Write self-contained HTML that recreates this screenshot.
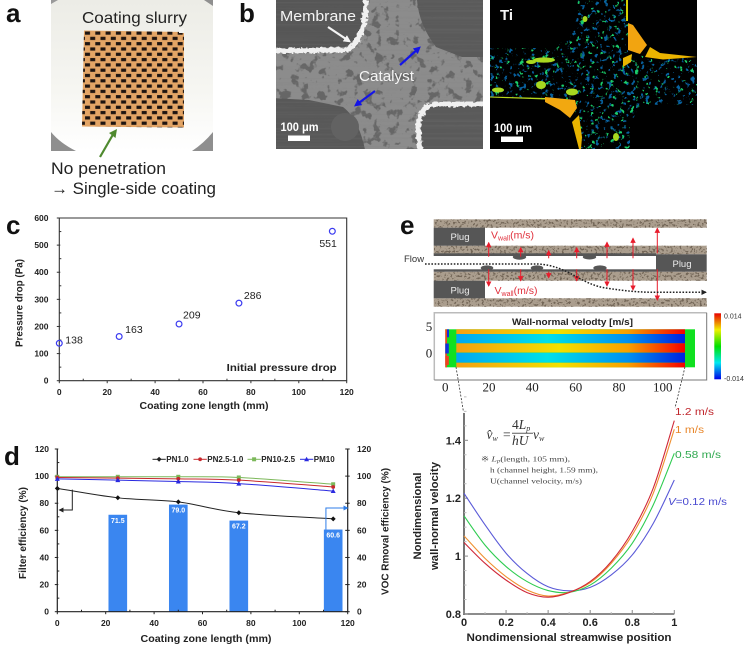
<!DOCTYPE html>
<html><head><meta charset="utf-8"><title>Coating figure</title>
<style>
html,body{margin:0;padding:0;background:#fff;width:745px;height:646px;overflow:hidden}
svg{display:block}
text{font-family:"Liberation Sans","Noto Sans CJK KR",sans-serif}
.serif{font-family:"Liberation Serif",serif}
.b{font-weight:bold}
</style></head><body>
<svg id="fig" xmlns="http://www.w3.org/2000/svg" width="745" height="646" viewBox="0 0 745 646">
<defs>
<pattern id="holes" width="10.3" height="10.6" patternUnits="userSpaceOnUse" x="84" y="30">
<rect x="1" y="1.5" width="5" height="3.2" fill="#1e1410"/><rect x="6.2" y="6.8" width="5" height="3.2" fill="#1e1410"/><rect x="-4.1" y="6.8" width="5" height="3.2" fill="#1e1410"/>
</pattern>
<linearGradient id="photo-bg" x1="0" y1="0" x2="0" y2="1"><stop offset="0" stop-color="#ecece6"/><stop offset=".6" stop-color="#f6f6f2"/><stop offset="1" stop-color="#ffffff"/></linearGradient>
<linearGradient id="hot" x1="0" y1="0" x2="1" y2="0"><stop offset="0" stop-color="#f5a010"/><stop offset=".45" stop-color="#f2e000"/><stop offset=".75" stop-color="#f8a000"/><stop offset=".95" stop-color="#f82000"/><stop offset="1" stop-color="#f00000"/></linearGradient>
<linearGradient id="cold" x1="0" y1="0" x2="1" y2="0"><stop offset="0" stop-color="#00a8f0"/><stop offset=".4" stop-color="#00e0e8"/><stop offset=".75" stop-color="#0090f0"/><stop offset="1" stop-color="#0020e0"/></linearGradient>
<linearGradient id="cbar" x1="0" y1="0" x2="0" y2="1"><stop offset="0" stop-color="#e80000"/><stop offset=".25" stop-color="#f0f000"/><stop offset=".5" stop-color="#00e000"/><stop offset=".75" stop-color="#00e8f0"/><stop offset="1" stop-color="#0000e8"/></linearGradient>
<filter id="blotch" x="0" y="0" width="100%" height="100%" color-interpolation-filters="sRGB"><feTurbulence type="fractalNoise" baseFrequency=".11" numOctaves="3" seed="4"/><feColorMatrix values="0 0 0 0 .4 0 0 0 0 .4 0 0 0 0 .4 10 0 0 0 -5.6"/></filter>
<filter id="lines" x="0" y="0" width="100%" height="100%" color-interpolation-filters="sRGB"><feTurbulence type="fractalNoise" baseFrequency=".003 .5" numOctaves="2" seed="2"/><feColorMatrix values="0 0 0 0 .5 0 0 0 0 .5 0 0 0 0 .5 3 0 0 0 -1.3"/></filter>
<filter id="rough" x="-5%" y="-5%" width="110%" height="110%"><feTurbulence type="fractalNoise" baseFrequency=".3" numOctaves="2" seed="7"/><feDisplacementMap in="SourceGraphic" scale="5"/></filter>
<filter id="speck1" x="0" y="0" width="100%" height="100%" color-interpolation-filters="sRGB"><feTurbulence type="fractalNoise" baseFrequency=".22" numOctaves="3" seed="9"/><feColorMatrix values="0 0 0 0 .03 0 0 0 0 .38 0 0 0 0 .62 14 0 0 0 -8.7"/></filter>
<filter id="speck2" x="0" y="0" width="100%" height="100%" color-interpolation-filters="sRGB"><feTurbulence type="fractalNoise" baseFrequency=".2" numOctaves="3" seed="21"/><feColorMatrix values="0 0 0 0 .1 0 0 0 0 .8 0 0 0 0 .42 14 0 0 0 -9.3"/></filter>
<filter id="gravel" x="0" y="0" width="100%" height="100%" color-interpolation-filters="sRGB"><feTurbulence type="fractalNoise" baseFrequency=".45" numOctaves="2" seed="5"/><feColorMatrix values="0 0 0 0 .45 0 0 0 0 .4 0 0 0 0 .34 9 0 0 0 -4.9"/></filter>
<clipPath id="sem-clip"><rect x="276" y="0" width="207" height="149"/></clipPath>
<clipPath id="ti-clip"><path d="M490 48L555 48L575 30L578 0L628 0L628 52L650 58L697 58L697 105L640 105L630 125L630 149L580 149L578 115L555 100L490 97Z"/></clipPath>
<clipPath id="band-clip"><path d="M434 219.3h273v8.4h-273zM434 245.7h273v8.6h-273zM434 271.7h273v9h-273zM434 298.3h273v8.4h-273z"/></clipPath>
<marker id="red-head" viewBox="0 0 6 6" refX="5" refY="3" markerWidth="5.500" markerHeight="5.500" orient="auto"><path d="M0 0L6 3L0 6Z" fill="#e81c2c"/></marker>
<marker id="black-head" viewBox="0 0 6 6" refX="5" refY="3" markerWidth="5" markerHeight="5" orient="auto"><path d="M0 0L6 3L0 6Z" fill="#222"/></marker>
<marker id="blue-head" viewBox="0 0 6 6" refX="5" refY="3" markerWidth="5" markerHeight="5" orient="auto"><path d="M0 0L6 3L0 6Z" fill="#2f7ee8"/></marker>
<marker id="navy-head" viewBox="0 0 6 6" refX="4" refY="3" markerWidth="3.400" markerHeight="3.400" orient="auto"><path d="M0 0L6 3L0 6Z" fill="#1414e6"/></marker>
<marker id="white-head" viewBox="0 0 6 6" refX="4" refY="3" markerWidth="3.400" markerHeight="3.400" orient="auto"><path d="M0 0L6 3L0 6Z" fill="#f4f4f4"/></marker>
<marker id="dot-head" viewBox="0 0 6 6" refX="5" refY="3" markerWidth="3.600" markerHeight="3.600" orient="auto"><path d="M0 0L6 3L0 6Z" fill="#222"/></marker>
</defs>

<!-- panel letters -->
<g class="b" font-size="26" font-weight="bold" fill="#111">
<text x="6" y="22">a</text>
<text x="239" y="22">b</text>
<text x="6" y="234">c</text>
<text x="4" y="465">d</text>
<text x="400" y="234">e</text>
</g>

<!-- panel a photo -->
<g>
<rect x="51" y="0" width="162" height="151" fill="url(#photo-bg)"/>
<path d="M51 132Q60 143 76 151H51Z" fill="#8f8f8f"/><path d="M213 132Q204 143 192 151H213Z" fill="#8f8f8f"/>
<path d="M51 0H58L51 4Z" fill="#9a9a9a"/><path d="M204 0H213V6Z" fill="#8f8f8f"/>
<path d="M84 30.5L184 32L184 127.5L82 126.5Z" fill="#e3a566"/>
<path d="M84 30.5L184 32L184 127.5L82 126.5Z" fill="url(#holes)"/>
<path d="M179 28h5v5h-5z" fill="#f4f4f0"/>
</g>
<text x="82" y="23" font-size="16" fill="#222" textLength="105" lengthAdjust="spacingAndGlyphs">Coating slurry</text>
<path d="M100 157L115 131" stroke="#4f8a2f" stroke-width="2.2" fill="none"/>
<path d="M117 129L109 133L115.500 138Z" fill="#4f8a2f"/>
<text x="51" y="174" font-size="16.500" fill="#222" textLength="115" lengthAdjust="spacingAndGlyphs">No penetration</text>
<text x="51" y="194" font-size="16.500" fill="#222" textLength="165" lengthAdjust="spacingAndGlyphs">→ Single-side coating</text>

<!-- panel b SEM -->
<g clip-path="url(#sem-clip)">
<rect x="276" y="0" width="207" height="149" fill="#8c8c8c"/>
<rect x="276" y="0" width="207" height="149" filter="url(#blotch)"/>
<path d="M270 -5H365Q364 40 345 47L270 50Z" fill="#565656"/>
<path d="M417 -5H490V57H462L436 47Q419 25 417 0Z" fill="#5a5a5a"/>
<path d="M270 98L309 100L343 107Q360 120 366 155H270Z" fill="#585858"/>
<path d="M418 155L417 125Q420 106 436 104H490V155Z" fill="#5a5a5a"/>
<rect x="276" y="0" width="207" height="149" filter="url(#lines)" opacity=".18"/>
<path d="M272 51L345 50Q365 44 366 0" fill="none" stroke="#f0f0f0" stroke-width="5" filter="url(#rough)"/>
<path d="M420 150L418 125Q420 106 437 104H486" fill="none" stroke="#f0f0f0" stroke-width="5" filter="url(#rough)"/>
<ellipse cx="345" cy="127" rx="14" ry="14" fill="#626262"/>
</g>
<text x="280" y="21" font-size="15" fill="#f4f4f4" textLength="76" lengthAdjust="spacingAndGlyphs">Membrane</text>
<path d="M328 27L349 41" stroke="#f4f4f4" stroke-width="2.200" marker-end="url(#white-head)"/>
<text x="359" y="81" font-size="15" fill="#f4f4f4" textLength="55" lengthAdjust="spacingAndGlyphs">Catalyst</text>
<path d="M400 65L419 48" stroke="#1414e6" stroke-width="2.200" marker-end="url(#navy-head)"/>
<path d="M375 91L356 105" stroke="#1414e6" stroke-width="2.200" marker-end="url(#navy-head)"/>
<text x="280.500" y="131" font-size="12" font-weight="bold" fill="#fff" textLength="38" lengthAdjust="spacingAndGlyphs">100 μm</text>
<rect x="288" y="135.500" width="22" height="5.500" fill="#fff"/>

<!-- Ti map -->
<g>
<rect x="490" y="0" width="207" height="149" fill="#000"/>
<g clip-path="url(#ti-clip)">
<rect x="490" y="0" width="207" height="149" filter="url(#speck1)"/>
<rect x="490" y="0" width="207" height="149" filter="url(#speck2)"/>
</g>
<g fill="#a8d820">
<ellipse cx="544" cy="60" rx="11" ry="2.600"/><ellipse cx="531" cy="62" rx="5" ry="2"/><ellipse cx="541" cy="85" rx="5" ry="4"/><ellipse cx="572" cy="92" rx="6" ry="3.500"/><ellipse cx="498" cy="90" rx="6" ry="2.500"/><ellipse cx="616" cy="137" rx="3" ry="4"/><ellipse cx="585" cy="19" rx="2.500" ry="3"/>
</g>
<path d="M490 96.500L545 98V99.500L490 97.500Z" fill="#b8d81c"/>
<path d="M628 23L633 25L647 45L640 54L628 50Z" fill="#f2a410"/>
<path d="M650 47L660 53L697 57L663 59.500L645 57Z" fill="#eab400"/>
<path d="M545 97L575 100L577 108L570 118L560 110L545 102Z" fill="#f2a810"/>
<path d="M572 122L579 115L582 137L581 149H579Z" fill="#e8b400"/>
<path d="M626 0H628V21H626Z" fill="#d8d000"/>
<path d="M623 58L632 54L631 62L623 67Z" fill="#e8b400"/>
</g>
<text x="500" y="20" font-size="15" font-weight="bold" fill="#f4f4f4">Ti</text>
<text x="494" y="132" font-size="12" font-weight="bold" fill="#fff" textLength="38" lengthAdjust="spacingAndGlyphs">100 μm</text>
<rect x="501" y="136.500" width="22" height="5.500" fill="#fff"/>

<!-- panel e schematic -->
<g>
<g fill="#ab9e8e"><rect x="433.700" y="219.300" width="273" height="8.400"/><rect x="433.700" y="245.700" width="273" height="8.600"/><rect x="433.700" y="271.700" width="273" height="9"/><rect x="433.700" y="298.300" width="273" height="8.400"/></g>
<g clip-path="url(#band-clip)"><rect x="433" y="218" width="274" height="90" filter="url(#gravel)"/></g>
<g fill="#565656">
<rect x="433.700" y="227.700" width="51.300" height="18"/><rect x="433.700" y="280.700" width="51.300" height="17.600"/><rect x="656" y="254.300" width="50.700" height="17.400"/>
<rect x="433.700" y="253.300" width="222.300" height="2.700"/><rect x="433.700" y="269.300" width="222.300" height="2.400"/>
<ellipse cx="519.500" cy="257" rx="6.700" ry="2.700"/><ellipse cx="589.500" cy="257" rx="6.700" ry="2.500"/>
<ellipse cx="487" cy="268" rx="6.300" ry="2.600"/><ellipse cx="537" cy="268" rx="6.300" ry="2.600"/><ellipse cx="600" cy="268" rx="6.700" ry="2.600"/>
</g>
<g stroke="#e81c2c" stroke-width="1" fill="none">
<path d="M488.700 256.700V242.700" marker-end="url(#red-head)"/><path d="M520.700 256.700V247.700" marker-end="url(#red-head)"/><path d="M548.700 258.300V250.700" marker-end="url(#red-head)"/><path d="M576.700 258.300V247.700" marker-end="url(#red-head)"/><path d="M607 258.300V242.300" marker-end="url(#red-head)"/><path d="M633 258.300V238.300" marker-end="url(#red-head)"/><path d="M657.300 253.300V228.300" marker-end="url(#red-head)"/>
<path d="M488.700 269.300V286" marker-end="url(#red-head)"/><path d="M520.700 269.300V280.700" marker-end="url(#red-head)"/><path d="M548.700 271.700V277.700" marker-end="url(#red-head)"/><path d="M576.700 269.300V280.700" marker-end="url(#red-head)"/><path d="M607 269.300V286" marker-end="url(#red-head)"/><path d="M633 269.300V290" marker-end="url(#red-head)"/><path d="M657.300 269.300V300" marker-end="url(#red-head)"/>
</g>
<path d="M425 264L538 264C570 266 580 285 608 288.300C625 291 640 292.300 655 292.300L706 292.300" fill="none" stroke="#222" stroke-width="1.500" stroke-dasharray="1.600 1.600" marker-end="url(#dot-head)"/>
</g>
<text x="404" y="262" font-size="9.500" fill="#333">Flow</text>
<g font-size="9.500" fill="#eee" text-anchor="middle">
<text x="460" y="240">Plug</text>
<text x="460" y="293.500">Plug</text>
<text x="682" y="267">Plug</text>
</g>
<text x="491" y="238.500" font-size="10.500" fill="#e0303c">V<tspan font-size="7" dy="2">wall</tspan><tspan dy="-2">(m/s)</tspan></text>
<text x="494.500" y="294" font-size="10.500" fill="#e0303c">V<tspan font-size="7" dy="2">wall</tspan><tspan dy="-2">(m/s)</tspan></text>

<!-- heat map -->
<g>
<path d="M434.300 380V312.700H706.700" fill="none" stroke="#bbb" stroke-width="1.500"/>
<path d="M434.300 380H706.700V312.700" fill="none" stroke="#777" stroke-width="1"/>
<rect x="445.300" y="329.300" width="249.700" height="38" fill="#10e020"/>
<rect x="445.300" y="329.300" width="1.700" height="38" fill="#f04020"/>
<rect x="447" y="329.300" width="2" height="8" fill="#1030e0"/>
<rect x="445.300" y="343.500" width="3.500" height="10" fill="#1030e0"/>
<rect x="445.300" y="356" width="3.500" height="9" fill="#f04020"/>
<rect x="456.300" y="329.300" width="228.700" height="4.700" fill="url(#hot)"/>
<rect x="456.300" y="334" width="228.700" height="9.300" fill="url(#cold)"/>
<rect x="456.300" y="343.300" width="228.700" height="9.300" fill="url(#hot)"/>
<rect x="456.300" y="352.700" width="228.700" height="10" fill="url(#cold)"/>
<rect x="456.300" y="362.700" width="228.700" height="4.700" fill="url(#hot)"/>
</g>
<text x="572.500" y="325" font-size="9.500" font-weight="bold" text-anchor="middle" fill="#222" textLength="121" lengthAdjust="spacingAndGlyphs">Wall-normal velodty [m/s]</text>
<g class="serif" font-size="13" fill="#222" text-anchor="middle">
<text class="serif" x="429" y="331">5</text>
<text class="serif" x="429" y="357.500">0</text>
<text class="serif" x="445.300" y="391.500">0</text>
<text class="serif" x="489" y="391.500">20</text>
<text class="serif" x="532.300" y="391.500">40</text>
<text class="serif" x="575.700" y="391.500">60</text>
<text class="serif" x="619" y="391.500">80</text>
<text class="serif" x="662.700" y="391.500">100</text>
</g>
<rect x="714.300" y="313.300" width="6.700" height="66" fill="url(#cbar)"/>
<text x="724" y="318.500" font-size="7" fill="#333">0.014</text>
<text x="724" y="381" font-size="7" fill="#333">-0.014</text>
<path d="M456 367L463.500 412" stroke="#333" stroke-width=".8" stroke-dasharray="2 1.500" fill="none"/>
<path d="M685 367L675 408" stroke="#333" stroke-width=".8" stroke-dasharray="2 1.500" fill="none"/>

<g id="chart-c"></g>
<text x="19" y="303" transform="rotate(-90 19 303)" dy="3.500" text-anchor="middle" font-size="10.500" font-weight="bold" fill="#222" textLength="88" lengthAdjust="spacingAndGlyphs">Pressure drop (Pa)</text>
<text x="204" y="409" text-anchor="middle" font-size="10.500" font-weight="bold" fill="#222" textLength="129" lengthAdjust="spacingAndGlyphs">Coating zone length (mm)</text>
<text x="226.700" y="371" font-size="10.500" font-weight="bold" fill="#222" textLength="110" lengthAdjust="spacingAndGlyphs">Initial pressure drop</text>

<g id="chart-d"></g>
<text x="22.700" y="533" transform="rotate(-90 22.700 533)" dy="3.500" text-anchor="middle" font-size="10.500" font-weight="bold" fill="#222" textLength="92" lengthAdjust="spacingAndGlyphs">Filter efficiency (%)</text>
<text x="385" y="531.500" transform="rotate(-90 385 531.500)" dy="3.500" text-anchor="middle" font-size="10" font-weight="bold" fill="#222" textLength="127" lengthAdjust="spacingAndGlyphs">VOC Rmoval efficiency (%)</text>
<text x="206" y="642" text-anchor="middle" font-size="10.500" font-weight="bold" fill="#222" textLength="131" lengthAdjust="spacingAndGlyphs">Coating zone length (mm)</text>

<g id="chart-e"></g>
<text x="569" y="641" text-anchor="middle" font-size="11" font-weight="bold" fill="#222" textLength="205" lengthAdjust="spacingAndGlyphs">Nondimensional streamwise position</text>
<text x="417.500" y="516" transform="rotate(-90 417.500 516)" dy="3.500" text-anchor="middle" font-size="11" font-weight="bold" fill="#222" textLength="87" lengthAdjust="spacingAndGlyphs">Nondimensional</text>
<text x="434.300" y="516" transform="rotate(-90 434.300 516)" dy="3.500" text-anchor="middle" font-size="11" font-weight="bold" fill="#222" textLength="108" lengthAdjust="spacingAndGlyphs">wall-normal velocity</text>
<text x="675" y="415" font-size="10.500" fill="#c0272d" textLength="39" lengthAdjust="spacingAndGlyphs">1.2 m/s</text>
<text x="675" y="433" font-size="10.500" fill="#e8862a" textLength="29" lengthAdjust="spacingAndGlyphs">1 m/s</text>
<text x="675" y="458" font-size="10.500" fill="#2fa84f" textLength="46" lengthAdjust="spacingAndGlyphs">0.58 m/s</text>
<text x="668" y="505" font-size="10.500" fill="#4a4ad0" textLength="59" lengthAdjust="spacingAndGlyphs"><tspan font-style="italic">V</tspan>=0.12 m/s</text>
<g fill="#333">
<text class="serif" x="486.500" y="439" font-size="13.500" font-style="italic">v̂<tspan font-size="8" dy="2">w</tspan><tspan dy="-2" font-style="normal" x="503">=</tspan></text>
<text class="serif" x="512" y="429" font-size="13.500" font-style="italic"><tspan font-style="normal">4</tspan>L<tspan font-size="8" dy="2">p</tspan></text>
<rect x="512" y="432.800" width="21" height=".8"/>
<text class="serif" x="512" y="445" font-size="13.500" font-style="italic">hU</text>
<text class="serif" x="533" y="439" font-size="13.500" font-style="italic">v<tspan font-size="8" dy="2">w</tspan></text>
</g>
<g fill="#444" font-size="7.500">
<text class="serif" x="481" y="461.500" textLength="89" lengthAdjust="spacingAndGlyphs">※ <tspan font-style="italic">L</tspan><tspan font-size="5.500" font-style="italic" dy="1">p</tspan><tspan dy="-1">(length, 105 mm),</tspan></text>
<text class="serif" x="490" y="472.500" textLength="108" lengthAdjust="spacingAndGlyphs">h (channel height, 1.59 mm),</text>
<text class="serif" x="490" y="483.500" textLength="92" lengthAdjust="spacingAndGlyphs">U(channel velocity, m/s)</text>
</g>

<script>
// ---- chart c data ----
const coatingLengthC = [0, 25, 50, 75, 114];
const pressureDrop = [138, 163, 209, 286, 551];
const pressureLabels = ['138', '163', '209', '286', '551'];
const pressureXTicks = [0, 20, 40, 60, 80, 100, 120];
const pressureYTicks = [0, 100, 200, 300, 400, 500, 600];
// ---- chart d data ----
const coatingLengthD = [0, 25, 50, 75, 114];
const pn10 = [91, 84, 81, 73, 68.5];
const pn25 = [99, 98.5, 98, 97, 92];
const pn1025 = [99.5, 99.5, 99.5, 99, 94];
const pm10 = [98, 97, 96, 94.5, 89];
const vocLength = [25, 50, 75, 114];
const vocEfficiency = [71.5, 79.0, 67.2, 60.6];
const effXTicks = [0, 20, 40, 60, 80, 100, 120];
const effYTicks = [0, 20, 40, 60, 80, 100, 120];
// ---- chart e data ----
const streamwise = [0, .1, .2, .3, .4, .5, .6, .7, .8, .9, 1];
const velocity12 = [1.047, .975, .917, .874, .858, .874, .912, .981, 1.085, 1.235, 1.468];
const velocity10 = [1.07, .992, .929, .883, .862, .875, .908, .975, 1.073, 1.217, 1.438];
const velocity058 = [1.139, 1.038, .964, .912, .881, .875, .9, .958, 1.044, 1.177, 1.355];
const velocity012 = [1.217, 1.108, 1.01, .94, .894, .88, .892, .935, 1.004, 1.113, 1.263];
const velXTicks = ['0', '0.2', '0.4', '0.6', '0.8', '1'];
const velYTicks = ['0.8', '1', '1.2', '1.4'];

const NS = 'http://www.w3.org/2000/svg';
function mk(parent, tag, attrs, txt) {
  const el = document.createElementNS(NS, tag);
  for (const k in attrs) el.setAttribute(k, attrs[k]);
  if (txt !== undefined) el.textContent = txt;
  parent.appendChild(el);
  return el;
}
function smooth(pts) {
  let d = 'M' + pts[0][0] + ' ' + pts[0][1];
  for (let i = 0; i < pts.length - 1; i++) {
    const p0 = pts[Math.max(i - 1, 0)], p1 = pts[i], p2 = pts[i + 1], p3 = pts[Math.min(i + 2, pts.length - 1)];
    d += 'C' + (p1[0] + (p2[0] - p0[0]) / 6) + ' ' + (p1[1] + (p2[1] - p0[1]) / 6) + ' ' +
         (p2[0] - (p3[0] - p1[0]) / 6) + ' ' + (p2[1] - (p3[1] - p1[1]) / 6) + ' ' + p2[0] + ' ' + p2[1];
  }
  return d;
}

// ================= chart c
(function () {
  const g = document.getElementById('chart-c');
  const sx = v => 59.3 + v * (346.7 - 59.3) / 120;
  const sy = v => 380.7 - v * (380.7 - 218) / 600;
  const frame = mk(g, 'path', { d: 'M' + sx(0) + ' ' + sy(600) + 'H' + sx(120) + 'V' + sy(0) + 'H' + sx(0) + 'Z', fill: 'none', stroke: '#333', 'stroke-width': 1.1 });
  
  
  pressureXTicks.forEach((v, i) => {
    const t = mk(g, 'line', { x1: sx(v), x2: sx(v), y1: sy(0), y2: sy(0) + 2.5, stroke: '#333', 'stroke-width': 1 });
    
    
    const l = mk(g, 'text', { x: sx(v), y: 395, 'text-anchor': 'middle', 'font-size': 8.5, 'font-weight': 'bold', fill: '#222' }, String(v));
    
    
    if (i < pressureXTicks.length - 1) {
      const m = mk(g, 'line', { x1: sx(v + 10), x2: sx(v + 10), y1: sy(0), y2: sy(0) - 2, stroke: '#333', 'stroke-width': 1 });
      
      
    }
  });
  pressureYTicks.forEach((v, i) => {
    const t = mk(g, 'line', { x1: sx(0) - 2.5, x2: sx(0) + 1, y1: sy(v), y2: sy(v), stroke: '#333', 'stroke-width': 1 });
    
    
    const l = mk(g, 'text', { x: 48.5, y: sy(v) + 3, 'text-anchor': 'end', 'font-size': 8.5, 'font-weight': 'bold', fill: '#222' }, String(v));
    
    
    if (i < pressureYTicks.length - 1) {
      const m = mk(g, 'line', { x1: sx(0), x2: sx(0) + 2, y1: sy(v + 50), y2: sy(v + 50), stroke: '#333', 'stroke-width': 1 });
      
      
    }
  });
  const labelDx = [6, 6, 4, 5, -13], labelDy = [-3.5, -7, -9, -7.5, 12];
  coatingLengthC.forEach((v, i) => {
    const p = mk(g, 'circle', { cx: sx(v), cy: sy(pressureDrop[i]), r: 2.9, fill: 'none', stroke: '#3b3bf0', 'stroke-width': 1.2 });
    
    
    const l = mk(g, 'text', { x: sx(v) + labelDx[i], y: sy(pressureDrop[i]) + labelDy[i] + 3.5, 'font-size': 10.5, fill: '#222' }, pressureLabels[i]);
    
    
  });
})();

// ================= chart d
(function () {
  const g = document.getElementById('chart-d');
  const sx = v => 57.3 + v * (347.7 - 57.3) / 120;
  const sy = v => 611.7 - v * (611.7 - 449) / 120;
  const barHalf = 3.85;
  vocLength.forEach((v, i) => {
    const b = mk(g, 'rect', { x: sx(v - barHalf), y: sy(vocEfficiency[i]), width: sx(v + barHalf) - sx(v - barHalf), height: sy(0) - sy(vocEfficiency[i]), fill: '#3a86f0' });
    
    
    const l = mk(g, 'text', { x: sx(v), y: sy(vocEfficiency[i]) + 8, 'text-anchor': 'middle', 'font-size': 7, 'font-weight': 'bold', fill: '#fff' }, vocEfficiency[i].toFixed(1));
    
    
  });
  const axes = mk(g, 'path', { d: 'M' + sx(0) + ' ' + sy(120) + 'V' + sy(0) + 'H' + sx(120) + 'V' + sy(120), fill: 'none', stroke: '#222', 'stroke-width': 1.2 });
  
  
  effXTicks.forEach((v, i) => {
    const t = mk(g, 'line', { x1: sx(v), x2: sx(v), y1: sy(0), y2: sy(0) + 2.5, stroke: '#222', 'stroke-width': 1 });
    
    
    const l = mk(g, 'text', { x: sx(v), y: 626, 'text-anchor': 'middle', 'font-size': 8.5, 'font-weight': 'bold', fill: '#222' }, String(v));
    
    
    if (i < effXTicks.length - 1) {
      const m = mk(g, 'line', { x1: sx(v + 10), x2: sx(v + 10), y1: sy(0), y2: sy(0) - 2, stroke: '#222', 'stroke-width': 1 });
      
      
    }
  });
  effYTicks.forEach((v, i) => {
    const t = mk(g, 'line', { x1: sx(0) - 2.5, x2: sx(0) + 1, y1: sy(v), y2: sy(v), stroke: '#222', 'stroke-width': 1 });
    
    
    const t2 = mk(g, 'line', { x1: sx(120) - 2.5, x2: sx(120) + 2, y1: sy(v), y2: sy(v), stroke: '#222', 'stroke-width': 1 });
    
    
    const l = mk(g, 'text', { x: 49, y: sy(v) + 3, 'text-anchor': 'end', 'font-size': 8.5, 'font-weight': 'bold', fill: '#222' }, String(v));
    
    
    const r = mk(g, 'text', { x: 357, y: sy(v) + 3, 'font-size': 8.5, 'font-weight': 'bold', fill: '#222' }, String(v));
    
    
    if (i < effYTicks.length - 1) {
      const m = mk(g, 'line', { x1: sx(0), x2: sx(0) + 2, y1: sy(v + 10), y2: sy(v + 10), stroke: '#222', 'stroke-width': 1 });
      
      
    }
  });
  function marker(p, col, kind) {
    const x = p[0], y = p[1];
    if (kind === 'square') return mk(g, 'rect', { x: x - 2, y: y - 2, width: 4, height: 4, fill: col });
    if (kind === 'triangle') return mk(g, 'path', { d: 'M' + x + ' ' + (y - 2.5) + 'L' + (x + 2.5) + ' ' + (y + 2) + 'L' + (x - 2.5) + ' ' + (y + 2) + 'Z', fill: col });
    if (kind === 'diamond') return mk(g, 'path', { d: 'M' + x + ' ' + (y - 2.5) + 'L' + (x + 2.5) + ' ' + y + 'L' + x + ' ' + (y + 2.5) + 'L' + (x - 2.5) + ' ' + y + 'Z', fill: col });
    return mk(g, 'circle', { cx: x, cy: y, r: 1.9, fill: col });
  }
  function series(vals, line, col, kind, sname) {
    const pts = coatingLengthD.map((v, i) => [sx(v), sy(vals[i])]);
    const l = mk(g, 'path', { d: smooth(pts), fill: 'none', stroke: line, 'stroke-width': 1 });
    
    
    pts.forEach(p => {
      const m = marker(p, col, kind);
      
      
    });
  }
  series(pn1025, '#7cb85a', '#7cb85a', 'square', 'pn10-2-5');
  series(pn25, '#c8282c', '#c8282c', 'circle', 'pn2-5-1-0');
  series(pm10, '#2a2ae0', '#2a2ae0', 'triangle', 'pm10');
  series(pn10, '#222', '#111', 'diamond', 'pn1-0');
  const leftArrow = mk(g, 'path', { d: 'M' + sx(6.2) + ' ' + sy(90) + 'V' + sy(75) + 'H' + (sx(0) + 2), fill: 'none', stroke: '#222', 'stroke-width': 1, 'marker-end': 'url(#black-head)' });
  
  
  const rightArrow = mk(g, 'path', { d: 'M' + sx(111) + ' ' + sy(60.6) + 'V' + sy(76.5) + 'H' + sx(120), fill: 'none', stroke: '#2f7ee8', 'stroke-width': 1, 'marker-end': 'url(#blue-head)' });
  
  
  const legendNames = ['PN1.0', 'PN2.5-1.0', 'PN10-2.5', 'PM10'];
  const legendColors = ['#222', '#c8282c', '#7cb85a', '#2a2ae0'];
  const legendKinds = ['diamond', 'circle', 'square', 'triangle'];
  const legendX = [152.5, 193.5, 247.5, 300];
  legendNames.forEach((n, i) => {
    const e = mk(g, 'line', { x1: legendX[i], x2: legendX[i] + 13.3, y1: 459.3, y2: 459.3, stroke: legendColors[i], 'stroke-width': 1 });
    
    
    const m = marker([legendX[i] + 6.6, 459.3], legendColors[i], legendKinds[i]);
    
    
    const t = mk(g, 'text', { x: legendX[i] + 13.8, y: 462, 'font-size': 8, 'font-weight': 'bold', fill: '#222' }, n);
    
    
  });
})();

// ================= chart e
(function () {
  const g = document.getElementById('chart-e');
  const sx = v => 464 + v * (674.3 - 464);
  const sy = v => 614 - (v - .8) * (614 - 440.3) / .6;
  const leftAxis = mk(g, 'line', { x1: sx(0), x2: sx(0), y1: 413, y2: sy(.8) + 1, stroke: '#666', 'stroke-width': 1.8 });
  
  
  const botAxis = mk(g, 'line', { x1: sx(0), x2: sx(1), y1: sy(.8), y2: sy(.8), stroke: '#666', 'stroke-width': 1.4 });
  
  
  velXTicks.forEach((s, i) => {
    const v = parseFloat(s);
    const t = mk(g, 'line', { x1: sx(v), x2: sx(v), y1: sy(.8), y2: sy(.8) - 4, stroke: '#888', 'stroke-width': 1 });
    
    
    const l = mk(g, 'text', { x: sx(v), y: 626, 'text-anchor': 'middle', 'font-size': 11, 'font-weight': 'bold', fill: '#222' }, s);
    
    
    if (i < velXTicks.length - 1) {
      const m = mk(g, 'line', { x1: sx(v + .1), x2: sx(v + .1), y1: sy(.8), y2: sy(.8) - 2, stroke: '#bbb', 'stroke-width': 1 });
      
      
    }
  });
  velYTicks.forEach((s, i) => {
    const v = parseFloat(s);
    const t = mk(g, 'line', { x1: sx(0), x2: sx(0) + 4, y1: sy(v), y2: sy(v), stroke: '#888', 'stroke-width': 1 });
    
    
    const l = mk(g, 'text', { x: 461, y: sy(v) + 4, 'text-anchor': 'end', 'font-size': 11, 'font-weight': 'bold', fill: '#222' }, s);
    
    
    for (let k = 1; k < 4; k++) {
      const m = mk(g, 'line', { x1: sx(0), x2: sx(0) + 2.5, y1: sy(v + k * .05), y2: sy(v + k * .05), stroke: '#bbb', 'stroke-width': 1 });
      
      
    }
  });
  function curve(vals, col, cname) {
    const pts = streamwise.map((v, i) => [sx(v), sy(vals[i])]);
    const p = mk(g, 'path', { d: smooth(pts), fill: 'none', stroke: col, 'stroke-width': 1.1 });
    
    
  }
  curve(velocity012, '#5a5ad8', 'curve-v-0-12');
  curve(velocity058, '#2ecc50', 'curve-v-0-58');
  curve(velocity10, '#f09030', 'curve-v-1');
  curve(velocity12, '#d02838', 'curve-v-1-2');
})();
</script>
</svg>
</body></html>
